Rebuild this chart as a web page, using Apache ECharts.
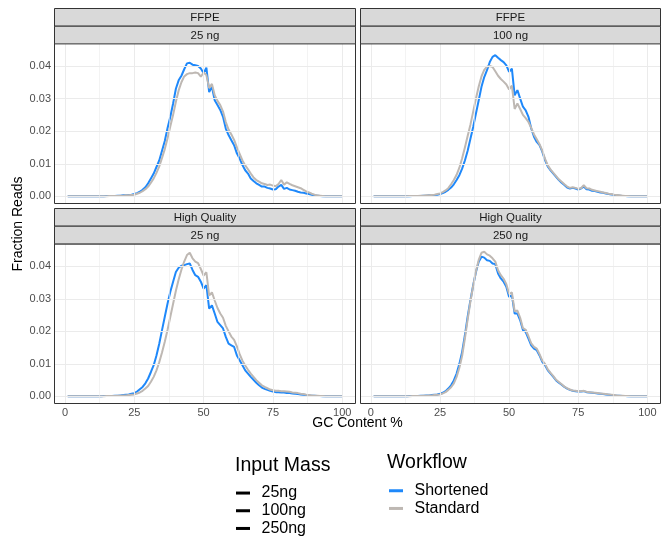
<!DOCTYPE html>
<html><head><meta charset="utf-8">
<script src="https://cdn.jsdelivr.net/npm/echarts@6/dist/echarts.min.js"></script>
<style>html,body{margin:0;padding:0;background:#fff}#chart{width:665px;height:537px}</style>
</head><body><div id="chart"></div>
<script>
// ---------- data ----------
const gcContent = [1,2,3,4,5,6,7,8,9,10,11,12,13,14,15,16,17,18,19,20,21,22,23,24,25,26,27,28,29,30,31,32,33,34,35,36,37,38,39,40,41,42,43,44,45,46,47,48,49,50,51,52,53,54,55,56,57,58,59,60,61,62,63,64,65,66,67,68,69,70,71,72,73,74,75,76,77,78,79,80,81,82,83,84,85,86,87,88,89,90,91,92,93,94,95,96,97,98,99,100];
const xTicks = [0, 25, 50, 75, 100];
const xMinorTicks = [12.5, 37.5, 62.5, 87.5];
const yTicks = [0, 0.01, 0.02, 0.03, 0.04];
const yMinorTicks = [0.005, 0.015, 0.025, 0.035, 0.045];
const panelSample = ['FFPE', 'FFPE', 'High Quality', 'High Quality'];
const panelMass = ['25 ng', '100 ng', '25 ng', '250 ng'];
const workflows = ['Shortened', 'Standard'];
const inputMassLevels = ['25ng', '100ng', '250ng'];

const ffpe25Shortened = [
0,0,0,0,0,0,0,0,0,0,
0,0,0,0,0.0001,0.0001,0.0001,0.0001,0.0002,0.0002,
0.0003,0.0003,0.0004,0.0005,0.0007,0.001,0.0014,0.002,0.0028,0.004,
0.0055,0.007,0.009,0.011,0.014,0.017,0.021,0.0244,0.0285,0.033,
0.0356,0.037,0.039,0.0408,0.041,0.0404,0.0402,0.04,0.0392,0.0378,
0.0395,0.032,0.0336,0.0295,0.028,0.0265,0.0244,0.0208,0.0188,0.0172,
0.0157,0.0132,0.0116,0.0096,0.008,0.007,0.0055,0.0047,0.004,0.0035,
0.003,0.003,0.0026,0.0024,0.0021,0.0022,0.003,0.0035,0.0023,0.0026,
0.0021,0.0019,0.0017,0.0014,0.0012,0.0011,0.0009,0.0007,0.0005,0.0003,
0.0002,0.0001,0,0,0,0,0,0,0,0];
const ffpe25Standard = [
0,0,0,0,0,0,0,0,0,0,
0,0,0,0,0,0.0001,0.0001,0.0001,0.0001,0.0002,
0.0002,0.0003,0.0003,0.0004,0.0005,0.0008,0.0011,0.0016,0.0022,0.003,
0.0042,0.0055,0.0072,0.0092,0.0118,0.0145,0.0178,0.0215,0.025,0.029,
0.0325,0.035,0.0368,0.0375,0.0378,0.0378,0.038,0.0378,0.0367,0.038,
0.0372,0.0332,0.0345,0.031,0.0293,0.028,0.026,0.0228,0.0205,0.019,
0.0173,0.015,0.013,0.011,0.0095,0.0083,0.007,0.0058,0.005,0.0045,
0.004,0.0038,0.0035,0.0036,0.0033,0.0031,0.0038,0.005,0.0036,0.0043,
0.0038,0.0034,0.0031,0.0028,0.0025,0.002,0.0015,0.0012,0.0008,0.0005,
0.0003,0.0002,0.0001,0,0,0,0,0,0,0];
const ffpe100Shortened = [
0,0,0,0,0,0,0,0,0,0,
0,0,0,0,0.0001,0.0001,0.0001,0.0001,0.0002,0.0002,
0.0003,0.0003,0.0004,0.0005,0.0007,0.001,0.0014,0.002,0.0027,0.0037,
0.005,0.0065,0.0085,0.011,0.014,0.0177,0.0213,0.0254,0.0295,0.0336,
0.0366,0.0387,0.0412,0.0428,0.0433,0.0425,0.0418,0.0412,0.0402,0.0382,
0.0392,0.031,0.0326,0.03,0.0275,0.0264,0.0244,0.0208,0.0183,0.0167,
0.0157,0.0137,0.0111,0.0091,0.008,0.007,0.006,0.005,0.0042,0.0035,
0.0027,0.0024,0.0026,0.0024,0.0021,0.0024,0.003,0.0022,0.0021,0.0017,
0.0016,0.0014,0.0012,0.0011,0.0009,0.0007,0.0006,0.0004,0.0003,0.0002,
0.0001,0.0001,0,0,0,0,0,0,0,0];
const ffpe100Standard = [
0,0,0,0,0,0,0,0,0,0,
0,0,0,0.0001,0.0001,0.0001,0.0001,0.0002,0.0002,0.0003,
0.0003,0.0004,0.0005,0.0007,0.0009,0.0013,0.0018,0.0025,0.0037,0.005,
0.0066,0.0088,0.0117,0.015,0.0185,0.022,0.026,0.03,0.0337,0.0368,
0.0388,0.0398,0.04,0.0397,0.0384,0.037,0.036,0.0352,0.0343,0.0328,
0.034,0.0268,0.0285,0.0268,0.025,0.024,0.0228,0.021,0.019,0.0175,
0.016,0.014,0.0115,0.0095,0.0082,0.0072,0.0062,0.0052,0.0045,0.0037,
0.003,0.0026,0.0028,0.0026,0.0023,0.0025,0.0034,0.0025,0.0024,0.002,
0.0018,0.0016,0.0014,0.0012,0.001,0.0008,0.0007,0.0005,0.0004,0.0003,
0.0002,0.0001,0.0001,0,0,0,0,0,0,0];
const hq25Shortened = [
0,0,0,0,0,0,0,0,0,0,
0,0,0,0.0001,0.0001,0.0001,0.0001,0.0002,0.0002,0.0003,
0.0004,0.0005,0.0006,0.0008,0.001,0.0015,0.0022,0.0029,0.004,0.0055,
0.0075,0.0096,0.0126,0.0162,0.0204,0.0245,0.0286,0.0322,0.0353,0.0383,
0.0396,0.0402,0.0404,0.0407,0.0409,0.0389,0.0373,0.0368,0.0353,0.0332,
0.0342,0.027,0.028,0.0255,0.0229,0.0219,0.0209,0.0183,0.0162,0.0157,
0.0152,0.0126,0.0111,0.0096,0.008,0.007,0.006,0.0051,0.0042,0.0034,
0.0027,0.0023,0.002,0.0017,0.0015,0.0013,0.0013,0.0012,0.0012,0.001,
0.001,0.0009,0.0008,0.0007,0.0006,0.0005,0.0004,0.0003,0.0002,0.0002,
0.0001,0.0001,0,0,0,0,0,0,0,0];
const hq25Standard = [
0,0,0,0,0,0,0,0,0,0,
0,0,0,0,0.0001,0.0001,0.0001,0.0001,0.0002,0.0002,
0.0003,0.0003,0.0004,0.0005,0.0006,0.0009,0.0012,0.0017,0.0024,0.0032,
0.0045,0.006,0.008,0.0105,0.0135,0.0168,0.0205,0.0245,0.0285,0.0325,
0.036,0.039,0.0415,0.0435,0.0442,0.0425,0.0415,0.041,0.0392,0.0372,
0.0382,0.031,0.032,0.0295,0.0272,0.0255,0.0242,0.0217,0.02,0.0184,
0.0174,0.0154,0.013,0.011,0.0095,0.0082,0.007,0.006,0.005,0.0042,
0.0034,0.0029,0.0025,0.0021,0.0019,0.0017,0.0017,0.0016,0.0016,0.0015,
0.0014,0.0012,0.0011,0.001,0.0008,0.0007,0.0005,0.0004,0.0003,0.0002,
0.0002,0.0001,0.0001,0,0,0,0,0,0,0];
const hq250Shortened = [
0,0,0,0,0,0,0,0,0,0,
0,0,0,0.0001,0.0001,0.0001,0.0001,0.0002,0.0002,0.0003,
0.0003,0.0004,0.0005,0.0006,0.0008,0.0011,0.0016,0.0024,0.0034,0.0049,
0.007,0.01,0.0137,0.0188,0.0245,0.0296,0.0342,0.0383,0.0414,0.043,
0.0427,0.0419,0.0417,0.0409,0.0407,0.0378,0.0363,0.0353,0.0337,0.0306,
0.0311,0.0255,0.0255,0.0234,0.0204,0.0198,0.0178,0.0157,0.0147,0.0142,
0.0126,0.0106,0.0096,0.008,0.007,0.006,0.0049,0.0042,0.0036,0.0029,
0.0024,0.002,0.0017,0.0016,0.0015,0.0015,0.0016,0.0013,0.0012,0.0011,
0.001,0.0009,0.0008,0.0007,0.0006,0.0005,0.0004,0.0003,0.0002,0.0002,
0.0001,0.0001,0,0,0,0,0,0,0,0];
const hq250Standard = [
0,0,0,0,0,0,0,0,0,0,
0,0,0,0,0.0001,0.0001,0.0001,0.0001,0.0002,0.0002,
0.0003,0.0003,0.0004,0.0005,0.0006,0.0009,0.0013,0.002,0.0028,0.004,
0.006,0.0088,0.0125,0.0178,0.0237,0.0292,0.034,0.0385,0.042,0.0442,
0.0445,0.0437,0.0433,0.0425,0.0415,0.0388,0.0373,0.0362,0.0345,0.0315,
0.032,0.0262,0.0264,0.0242,0.021,0.0205,0.0185,0.0163,0.0152,0.0147,
0.013,0.011,0.01,0.0083,0.0072,0.0062,0.0051,0.0044,0.0037,0.003,
0.0025,0.0021,0.0018,0.0017,0.0016,0.0016,0.0017,0.0014,0.0013,0.0012,
0.0011,0.001,0.0009,0.0008,0.0007,0.0006,0.0005,0.0004,0.0003,0.0002,
0.0002,0.0001,0.0001,0,0,0,0,0,0,0];

const panelShortened = [ffpe25Shortened, ffpe100Shortened, hq25Shortened, hq250Shortened];
const panelStandard = [ffpe25Standard, ffpe100Standard, hq25Standard, hq250Standard];

// ---------- layout / style ----------
const FONT = '"Liberation Sans", Arial, Helvetica, sans-serif';
const BLUE = '#1E88FA';
const GRAY = '#BEB8B3';
const GRID_COLOR = '#EBEBEB';
const panels = [
  {left: 54,  top: 43,    width: 302, height: 161,   stripTop: 8},
  {left: 360, top: 43,    width: 301, height: 161,   stripTop: 8},
  {left: 54,  top: 243.5, width: 302, height: 160.5, stripTop: 208},
  {left: 360, top: 243.5, width: 301, height: 160.5, stripTop: 208}
];
const STRIP_H = 17.7;

const chart = echarts.init(document.getElementById('chart'), null, {renderer: 'canvas'});

const grids = [], xAxes = [], yAxes = [], series = [], graphics = [];

panels.forEach((p, i) => {
  const bottomRow = i >= 2;
  const leftCol = i % 2 === 0;
  grids.push({left: p.left, top: p.top, width: p.width, height: p.height, show: false, containLabel: false});
  xAxes.push({
    gridIndex: i, type: 'value', min: -3.95, max: 104.95,
    axisLine: {show: false}, splitLine: {show: false},
    axisTick: {show: bottomRow, customValues: xTicks, length: 2.5, lineStyle: {color: '#333333', width: 1}},
    axisLabel: {show: bottomRow, customValues: xTicks, fontSize: 11, color: '#4D4D4D', margin: 3, fontFamily: FONT}
  });
  yAxes.push({
    gridIndex: i, type: 'value', min: -0.00235, max: 0.04705,
    axisLine: {show: false}, splitLine: {show: false},
    axisTick: {show: leftCol, customValues: yTicks, length: 2.5, lineStyle: {color: '#333333', width: 1}},
    axisLabel: {show: leftCol, customValues: yTicks, fontSize: 11, color: '#4D4D4D', margin: 3, fontFamily: FONT,
      formatter: v => v.toFixed(2)}
  });
  // background grid lines (major + minor)
  const gl = [];
  xTicks.forEach(v => gl.push({xAxis: v, lineStyle: {color: GRID_COLOR, width: 1, type: 'solid'}}));
  xMinorTicks.forEach(v => gl.push({xAxis: v, lineStyle: {color: GRID_COLOR, width: 0.6, type: 'solid'}}));
  yTicks.forEach(v => gl.push({yAxis: v, lineStyle: {color: GRID_COLOR, width: 1, type: 'solid'}}));
  yMinorTicks.forEach(v => gl.push({yAxis: v, lineStyle: {color: GRID_COLOR, width: 0.6, type: 'solid'}}));
  series.push({
    name: 'grid' + i, type: 'line', xAxisIndex: i, yAxisIndex: i, z: 1,
    data: [[50, 0]], showSymbol: false, lineStyle: {opacity: 0, width: 0}, silent: true,
    markLine: {silent: true, symbol: 'none', label: {show: false}, animation: false, emphasis: {disabled: true}, data: gl}
  });
  series.push({
    name: 'Shortened', type: 'line', xAxisIndex: i, yAxisIndex: i, z: 3, color: BLUE,
    data: gcContent.map((x, k) => [x, panelShortened[i][k]]),
    showSymbol: false, symbol: 'none', lineStyle: {width: 2, color: BLUE}, silent: true
  });
  series.push({
    name: 'Standard', type: 'line', xAxisIndex: i, yAxisIndex: i, z: 4, color: GRAY,
    data: gcContent.map((x, k) => [x, panelStandard[i][k]]),
    showSymbol: false, symbol: 'none', lineStyle: {width: 2, color: GRAY}, silent: true
  });
  // panel border
  graphics.push({type: 'rect', z: 100, silent: true,
    shape: {x: p.left + 0.5, y: p.top + 0.5, width: p.width - 1, height: p.height - 1},
    style: {fill: null, stroke: '#333333', lineWidth: 1}});
  // strips
  const stripTexts = [panelSample[i], panelMass[i]];
  stripTexts.forEach((t, j) => {
    const y0 = p.stripTop + j * STRIP_H;
    graphics.push({type: 'rect', z: 100, silent: true,
      shape: {x: p.left + 0.5, y: y0 + 0.5, width: p.width - 1, height: STRIP_H},
      style: {fill: '#D9D9D9', stroke: '#333333', lineWidth: 1}});
    graphics.push({type: 'text', z: 101, silent: true, x: p.left + p.width / 2, y: y0 + STRIP_H / 2 + 0.8,
      style: {text: t, fill: '#1A1A1A', fontSize: 11.5, fontFamily: FONT, align: 'center', verticalAlign: 'middle'}});
  });
});

// Input Mass legend dummy series (solid black keys)
inputMassLevels.forEach(m => {
  series.push({name: m, type: 'line', xAxisIndex: 0, yAxisIndex: 0, color: '#000000', data: [], showSymbol: false,
    lineStyle: {color: '#000000', width: 2}});
});

// axis titles and legend titles
graphics.push({type: 'text', silent: true, x: 357.5, y: 423.5,
  style: {text: 'GC Content %', fill: '#000', fontSize: 14, fontFamily: FONT, align: 'center', verticalAlign: 'middle'}});
graphics.push({type: 'text', silent: true, x: 18, y: 224, rotation: Math.PI / 2,
  style: {text: 'Fraction Reads', fill: '#000', fontSize: 14, fontFamily: FONT, align: 'center', verticalAlign: 'middle'}});
graphics.push({type: 'text', silent: true, x: 235, y: 465.5,
  style: {text: 'Input Mass', fill: '#000', fontSize: 19.5, fontFamily: FONT, align: 'left', verticalAlign: 'middle'}});
graphics.push({type: 'text', silent: true, x: 387, y: 463,
  style: {text: 'Workflow', fill: '#000', fontSize: 19.5, fontFamily: FONT, align: 'left', verticalAlign: 'middle'}});

const legendCommon = {
  orient: 'vertical', itemWidth: 14, itemHeight: 3, itemGap: 0, icon: 'rect', padding: 0,
  selectedMode: false, height: 80,
  textStyle: {fontSize: 16, lineHeight: 17.7, color: '#000', fontFamily: FONT, padding: [0, 0, 0, 6.5]}
};

chart.setOption({
  animation: false,
  backgroundColor: '#ffffff',
  textStyle: {fontFamily: FONT},
  grid: grids,
  xAxis: xAxes,
  yAxis: yAxes,
  series: series,
  legend: [
    Object.assign({}, legendCommon, {data: inputMassLevels, left: 236, top: 484.2}),
    Object.assign({}, legendCommon, {data: workflows, left: 389, top: 481.9})
  ],
  graphic: graphics
});
</script></body></html>
